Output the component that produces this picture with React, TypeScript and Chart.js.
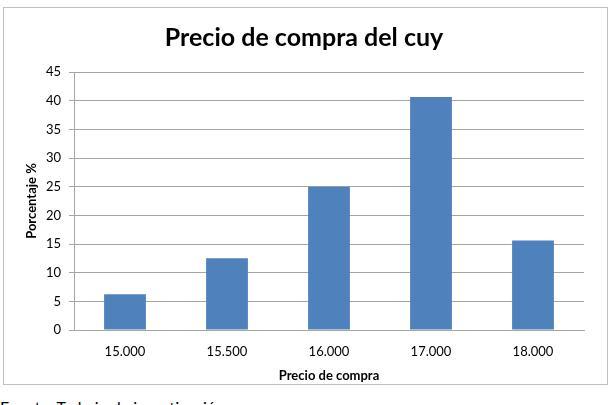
import React, { useEffect, useRef } from "react";
import { Chart, registerables } from "chart.js";

Chart.register(...registerables);

const categories = ["15.000", "15.500", "16.000", "17.000", "18.000"];
const percentages = [6.25, 12.5, 25, 40.625, 15.625];
const yTicks = [0, 5, 10, 15, 20, 25, 30, 35, 40, 45];
const titleText = "Precio de compra del cuy";
const xTitle = "Precio de compra";
const yTitle = "Porcentaje %";
const footerText = "Fuente: Trabajo de investigación";

const FONT = "Lato, 'Open Sans', sans-serif";

export default function App() {
  const ref = useRef<HTMLCanvasElement | null>(null);

  useEffect(() => {
    if (!ref.current) return;
    const chart = new Chart(ref.current, {
      type: "bar",
      data: {
        labels: categories,
        datasets: [
          {
            data: percentages,
            backgroundColor: "#4f81bd",
            borderWidth: 0,
            barPercentage: 0.41,
            categoryPercentage: 1,
          },
        ],
      },
      options: {
        responsive: false,
        animation: false,
        events: [],
        layout: { padding: { left: 20, right: 23, top: 0, bottom: 0 } },
        plugins: {
          legend: { display: false },
          tooltip: { enabled: false },
          title: {
            display: true,
            text: titleText,
            color: "#000",
            font: { family: FONT, size: 25, weight: "bold" },
            padding: { top: 15, bottom: 19 },
          },
        },
        scales: {
          x: {
            grid: { display: false },
            border: { display: true, color: "#a6a6a6" },
            ticks: {
              color: "#000",
              font: { family: FONT, size: 13 },
              padding: 6,
              maxRotation: 0,
            },
            title: {
              display: true,
              text: xTitle,
              color: "#000",
              font: { family: FONT, size: 13, weight: "bold" },
              padding: { top: 1, bottom: 0 },
            },
            afterFit: (s: any) => {
              s.height = 54;
            },
          },
          y: {
            min: 0,
            max: 45,
            afterBuildTicks: (s: any) => {
              s.ticks = yTicks.map((v) => ({ value: v }));
            },
            grid: {
              color: "#a6a6a6",
              lineWidth: 1,
              drawTicks: true,
              tickLength: 5,
            },
            border: { display: true, color: "#a6a6a6" },
            ticks: {
              color: "#000",
              font: { family: FONT, size: 13 },
              padding: 8,
            },
            title: {
              display: true,
              text: yTitle,
              color: "#000",
              font: { family: FONT, size: 13, weight: "bold" },
              padding: { top: 0, bottom: 4 },
            },
            afterFit: (s: any) => {
              s.width = 50;
            },
          },
        },
      },
    });
    return () => chart.destroy();
  }, []);

  return (
    <div
      style={{
        position: "fixed",
        left: 0,
        top: 0,
        width: 613,
        height: 405,
        overflow: "hidden",
        background: "#fff",
      }}
    >
      <div
        style={{
          position: "absolute",
          left: 3,
          top: 7,
          width: 603,
          height: 376,
          border: "1px solid #bfbfbf",
          background: "#fff",
        }}
      >
        <canvas ref={ref} width={603} height={376} style={{ display: "block" }} />
      </div>
      <div
        style={{
          position: "absolute",
          left: 0,
          top: 397,
          fontFamily: FONT,
          fontSize: 16,
          color: "#000",
          whiteSpace: "nowrap",
        }}
      >
        {footerText}
      </div>
    </div>
  );
}
